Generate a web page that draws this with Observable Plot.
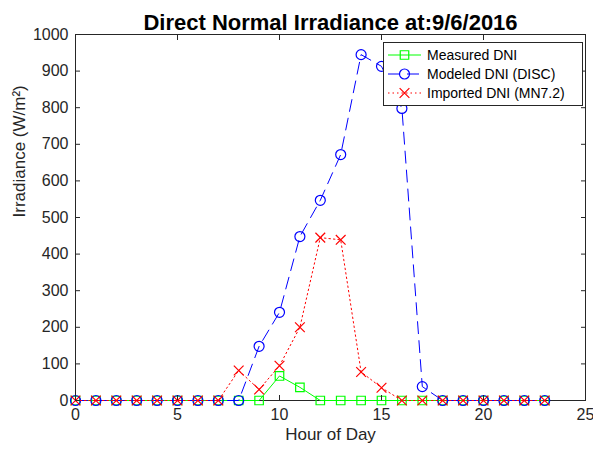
<!DOCTYPE html>
<html><head><meta charset="utf-8">
<script src="https://cdn.jsdelivr.net/npm/d3@7"></script>
<script src="https://cdn.jsdelivr.net/npm/@observablehq/plot@0.6"></script>
<style>body{margin:0;background:#fff}#chart{width:593px;height:451px}</style>
</head><body><div id="chart"></div>
<script>
const hours = [0,1,2,3,4,5,6,7,8,9,10,11,12,13,14,15,16,17,18,19,20,21,22,23];
const measured = [0,0,0,0,0,0,0,0,0,0,67,36,0,0,0,0,0,0,0,0,0,0,0,0];
const modeled  = [0,0,0,0,0,0,0,0,0,148,241,448,547,672,945,913,798,38,0,0,0,0,0,0];
const imported = [0,0,0,0,0,0,0,0,82,30,95,200,445,439,78,35,0,0,0,0,0,0,0,0];
const seriesNames = ["Measured DNI","Modeled DNI (DISC)","Imported DNI (MN7.2)"];
const xTicks = [0,5,10,15,20,25];
const yTicks = [0,100,200,300,400,500,600,700,800,900,1000];
const titleText = "Direct Normal Irradiance at:9/6/2016";
const xLabel = "Hour of Day";
const yLabel = "Irradiance (W/m\u00B2)";

const ink = "#262626";
const colors = ["#00ff00","#0000ff","#ff0000"];
const dashes = [null,"12,7","1.5,3"];
const symbols = ["square","circle","times"];
const radii = [4.8,5,4.5];
const values = [measured, modeled, imported];

const marks = [Plot.frame({stroke: ink})];
values.forEach((vals, k) => {
  const rows = hours.map((h, i) => ({h, v: vals[i]}));
  marks.push(Plot.line(rows, {x:"h", y:"v", stroke: colors[k], strokeWidth: 1, strokeDasharray: dashes[k]}));
  marks.push(Plot.dot(rows, {x:"h", y:"v", stroke: colors[k], symbol: symbols[k], r: radii[k], strokeWidth: 1.2, fill: "none"}));
});
marks.push(
  Plot.axisX({anchor:"bottom", ticks:xTicks, tickSize:-5, tickPadding:13, label:null, fill: ink, stroke: ink, fontSize:16, tickFormat: d => String(d)}),
  Plot.axisX({anchor:"top", ticks:xTicks, tickSize:-5, tickFormat:()=>"", label:null, stroke: ink}),
  Plot.axisY({anchor:"left", ticks:yTicks, tickSize:-5, tickPadding:12, label:null, fill: ink, stroke: ink, fontSize:16, tickFormat: d => String(d)}),
  Plot.axisY({anchor:"right", ticks:yTicks, tickSize:-5, tickFormat:()=>"", label:null, stroke: ink}),
  Plot.text([titleText], {text:d=>d, frameAnchor:"top", dy:-20, fontSize:22, fontWeight:"bold", fill:"#000"}),
  Plot.text([xLabel], {text:d=>d, frameAnchor:"bottom", dy:39, fontSize:17, fill: ink}),
  Plot.text([yLabel], {text:d=>d, frameAnchor:"left", rotate:-90, dx:-56, fontSize:17, fill: ink})
);

const svg = Plot.plot({
  width:593, height:451, marginLeft:75, marginRight:8, marginTop:34, marginBottom:51,
  style:{fontFamily:"'Liberation Sans', Arial, sans-serif", fontSize:"16px", color: ink, background:"#fff", overflow:"visible"},
  x:{domain:[0,25]},
  y:{domain:[0,1000]},
  marks
});
document.getElementById("chart").appendChild(svg);

// legend
const lg = d3.select(svg).append("g")
  .attr("font-family","'Liberation Sans', Arial, sans-serif")
  .attr("font-size","14px").attr("text-anchor","start");
lg.append("rect").attr("x",383.5).attr("y",42.5).attr("width",199).attr("height",63).attr("fill","#fff").attr("stroke",ink);
seriesNames.forEach((name, k) => {
  const cy = 55 + k*19;
  const ln = lg.append("line").attr("x1",388).attr("x2",421).attr("y1",cy).attr("y2",cy)
    .attr("stroke",colors[k]).attr("stroke-width",1);
  if (dashes[k]) ln.attr("stroke-dasharray",dashes[k]);
  const sym = [d3.symbolSquare, d3.symbolCircle, d3.symbolTimes][k];
  lg.append("path").attr("transform",`translate(404.5,${cy})`)
    .attr("d", d3.symbol(sym, Math.PI*radii[k]*radii[k])())
    .attr("fill","none").attr("stroke",colors[k]).attr("stroke-width",1.2);
  lg.append("text").attr("x",427).attr("y",cy).attr("dy","0.35em").attr("fill","#000").text(name);
});
</script></body></html>
